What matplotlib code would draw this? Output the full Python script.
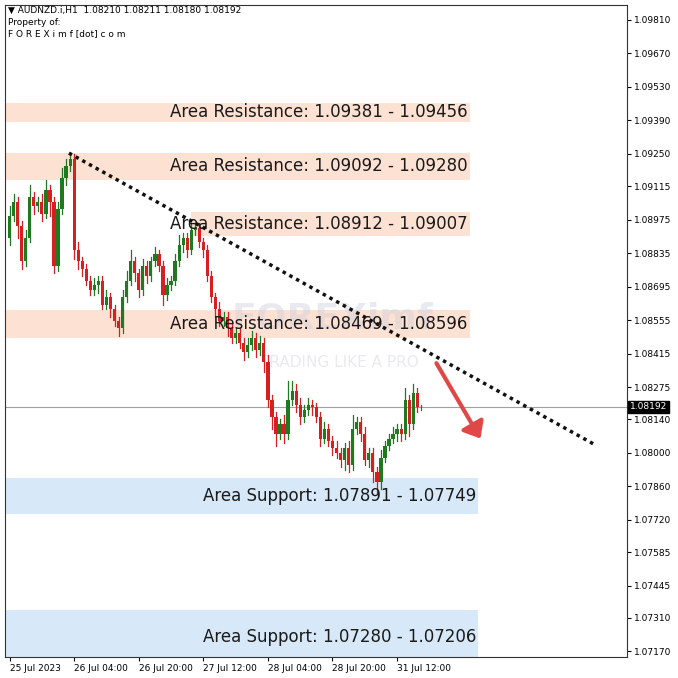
import matplotlib
matplotlib.use("Agg")
import matplotlib.pyplot as plt
from matplotlib.patches import Rectangle, FancyArrowPatch

closes = [1.0899,1.0905,1.0895,1.0880,1.0890,1.0907,1.0903,1.0905,1.0900,1.0910,
          1.0905,1.0878,1.0902,1.0915,1.0920,1.0923,1.0885,1.0880,1.0877,1.0872,
          1.0868,1.0870,1.0872,1.0862,1.0865,1.0860,1.0855,1.0852,1.0865,1.0872,
          1.0880,1.0875,1.0868,1.0878,1.0874,1.0880,1.0883,1.0878,1.0866,1.0870,
          1.0872,1.0880,1.0887,1.0890,1.0885,1.0893,1.0894,1.0888,1.0885,1.0874,
          1.0865,1.0860,1.0855,1.0857,1.0852,1.0848,1.0850,1.0846,1.0842,1.0845,
          1.0848,1.0843,1.0846,1.0838,1.0822,1.0815,1.0808,1.0812,1.0808,1.0822,
          1.0826,1.0820,1.0815,1.0818,1.0820,1.0819,1.0815,1.0806,1.0810,1.0805,
          1.0802,1.0800,1.0797,1.0802,1.0795,1.0810,1.0813,1.0808,1.0797,1.0800,
          1.0792,1.0788,1.0798,1.0803,1.0806,1.0808,1.0810,1.0808,1.0822,1.0812,
          1.0825,1.0819,1.08192]
first_open = 1.0890
upper_wick = [4,3,2,2,3,5,2,2,3,4, 2,2,3,4,3,2,2,3,2,2, 2,3,2,2,3,2,2,2,3,4,
              5,2,2,3,2,2,3,2,2,3, 2,3,4,2,2,3,2,2,2,2, 2,2,3,2,2,2,2,2,2,3,
              3,2,3,2,3,2,2,2,4,8, 4,3,3,2,3,2,2,2,3,2, 2,3,2,2,3,6,2,2,3,2,
              2,2,3,2,2,3,2,2,5,2, 4,2,1]
lower_wick = [3,2,5,3,2,2,3,2,3,2, 6,3,2,2,3,2,4,3,3,2, 2,2,3,2,2,3,2,3,2,2,
              2,3,3,2,3,2,2,2,4,2, 2,2,2,3,3,2,2,2,3,2, 2,3,2,2,3,2,2,2,3,2,
              2,3,2,4,3,5,5,2,4,2, 2,3,3,2,2,3,2,3,2,2, 3,2,3,4,3,2,2,3,2,3,
              4,5,3,2,2,2,3,3,2,5, 2,2,1]

time_labels = ["25 Jul 2023","26 Jul 04:00","26 Jul 20:00","27 Jul 12:00",
               "28 Jul 04:00","28 Jul 20:00","31 Jul 12:00"]
time_idx = [0,16,32,48,64,80,96]
price_ticks = [1.09810,1.09670,1.09530,1.09390,1.09250,1.09115,1.08975,1.08835,1.08695,
               1.08555,1.08415,1.08275,1.08140,1.08000,1.07860,1.07720,1.07585,1.07445,
               1.07310,1.07170]
# (band bottom, band top, x start, x end, label)
res_zones = [(1.09384,1.09463,-1,114,"Area Resistance: 1.09381 - 1.09456"),
             (1.09142,1.09254,-1,114,"Area Resistance: 1.09092 - 1.09280"),
             (1.08908,1.09008,45,114,"Area Resistance: 1.08912 - 1.09007"),
             (1.08481,1.08598,-1,114,"Area Resistance: 1.08469 - 1.08596")]
sup_zones = [(1.07746,1.07897,-1,116,"Area Support: 1.07891 - 1.07749"),
             (1.07147,1.07344,-1,116,"Area Support: 1.07280 - 1.07206")]
current = 1.08192

fig = plt.figure(figsize=(6.78,6.78), dpi=100)
ax = fig.add_axes([0.007,0.031,0.918,0.962])
ax.set_xlim(-1.2,153)
ax.set_ylim(1.07147,1.09873)

for a,b,x0,x1,txt in res_zones:
    ax.add_patch(Rectangle((x0,a),x1-x0,b-a,color="#fde2d3",zorder=1,lw=0))
    ax.text(x1-0.5,(a+b)/2,txt,ha="right",va="center",fontsize=12,color="#1a1a1a",zorder=5)
for k,(a,b,x0,x1,txt) in enumerate(sup_zones):
    ax.add_patch(Rectangle((x0,a),x1-x0,b-a,color="#d7e8f8",zorder=1,lw=0))
    ymid = (a+b)/2 if k == 0 else a + 0.42*(b-a)
    ax.text(x1-0.3,ymid,txt,ha="right",va="center",fontsize=12,color="#1a1a1a",zorder=5)

ax.text(55,1.0852,"FOREXimf",fontsize=26,fontweight="bold",color="#d0d0dc",alpha=0.45,zorder=2)
ax.text(62,1.0836,"TRADING LIKE A PRO",fontsize=11,color="#d0d0dc",alpha=0.45,zorder=2)

ax.axhline(current,color="#a0a0a0",lw=0.8,zorder=2)

opens = [first_open]+closes[:-1]
for i,(o,c,u,l) in enumerate(zip(opens,closes,upper_wick,lower_wick)):
    col = "#1f7a1f" if c>=o else "#d42020"
    hi = max(o,c)+u*0.0001; lo = min(o,c)-l*0.0001
    ax.plot([i,i],[lo,hi],color=col,lw=0.9,zorder=3)
    ax.add_patch(Rectangle((i-0.4,min(o,c)),0.8,max(abs(c-o),0.00003),color=col,zorder=4,lw=0))

ax.plot([14.7,144.6],[1.09253,1.08038],linestyle=(0,(1,1.2)),color="#111111",lw=2.5,zorder=6)
ax.add_patch(FancyArrowPatch((105.4,1.08385),(117,1.08050),arrowstyle="-|>,head_length=6,head_width=5",
                             color="#e04848",lw=3,zorder=6,mutation_scale=1.5))

ax.yaxis.tick_right()
ax.set_yticks(price_ticks)
ax.set_yticklabels([f"{p:.5f}" for p in price_ticks],fontsize=6.5)
ax.set_xticks(time_idx)
ax.set_xticklabels(time_labels,fontsize=6.5,ha="left")
ax.tick_params(axis="both",length=3,pad=2)
ax.text(1.005,(current-1.07147)/(1.09873-1.07147),f"{current:.5f}",transform=ax.transAxes,
        fontsize=6.5,color="white",va="center",ha="left",
        bbox=dict(boxstyle="square,pad=0.2",fc="black",ec="black"))
for s in ax.spines.values():
    s.set_color("#333333"); s.set_linewidth(0.8)

fig.text(0.012,0.985,"▼ AUDNZD.i,H1  1.08210 1.08211 1.08180 1.08192",fontsize=6.5,va="center")
fig.text(0.012,0.967,"Property of:",fontsize=6.5,va="center")
fig.text(0.012,0.950,"F O R E X i m f [dot] c o m",fontsize=6.5,va="center")
fig.savefig("out.png",dpi=100)
